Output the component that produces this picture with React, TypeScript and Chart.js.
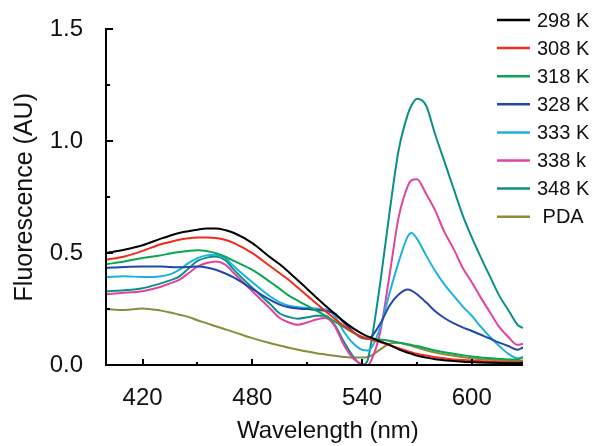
import { useEffect, useRef } from "react";
import { Chart, registerables } from "chart.js";

Chart.register(...registerables);

const wavelengths = [
  400, 410, 420, 430, 435, 440, 445, 450, 455, 460, 465, 470, 480, 490, 495,
  500, 505, 510, 515, 520, 525, 530, 535, 540, 543, 545, 550, 555, 560, 565,
  567, 570, 575, 580, 585, 590, 595, 600, 605, 610, 615, 620, 625, 628,
];

const k298 = [
  0.5, 0.515, 0.535, 0.565, 0.578, 0.59, 0.598, 0.605, 0.61, 0.61, 0.603, 0.59, 0.545, 0.48, 0.45,
  0.415, 0.378, 0.34, 0.302, 0.265, 0.23, 0.195, 0.165, 0.14, 0.128, 0.122, 0.105, 0.09, 0.07, 0.055,
  0.05, 0.042, 0.033, 0.026, 0.021, 0.018, 0.015, 0.013, 0.011, 0.01, 0.009, 0.008, 0.008, 0.01,
];
const k308 = [
  0.47, 0.485, 0.51, 0.54, 0.55, 0.56, 0.566, 0.57, 0.57, 0.568, 0.56, 0.545, 0.5, 0.44, 0.41,
  0.38, 0.345, 0.31, 0.275, 0.24, 0.207, 0.175, 0.148, 0.125, 0.118, 0.113, 0.102, 0.088, 0.075, 0.062,
  0.057, 0.05, 0.042, 0.035, 0.03, 0.025, 0.022, 0.02, 0.017, 0.015, 0.013, 0.012, 0.012, 0.015,
];
const k318 = [
  0.45, 0.463, 0.478, 0.49, 0.498, 0.505, 0.51, 0.513, 0.51, 0.5, 0.485, 0.465, 0.425, 0.37, 0.34,
  0.31, 0.287, 0.265, 0.243, 0.22, 0.195, 0.17, 0.145, 0.125, 0.118, 0.116, 0.114, 0.108, 0.1, 0.093,
  0.09, 0.085, 0.075, 0.065, 0.057, 0.05, 0.044, 0.038, 0.034, 0.03, 0.027, 0.025, 0.025, 0.035,
];
const k328 = [
  0.434, 0.438, 0.44, 0.44, 0.438, 0.437, 0.438, 0.44, 0.436, 0.426, 0.41, 0.39, 0.34, 0.29, 0.27,
  0.258, 0.252, 0.25, 0.246, 0.242, 0.23, 0.19, 0.15, 0.12, 0.117, 0.125, 0.185, 0.265, 0.315, 0.337,
  0.332, 0.316, 0.28, 0.24, 0.21, 0.187, 0.168, 0.152, 0.135, 0.118, 0.1, 0.085, 0.068, 0.078,
];
const k333 = [
  0.393, 0.397, 0.393, 0.397, 0.405, 0.425, 0.455, 0.478, 0.49, 0.493, 0.48, 0.44, 0.37, 0.305, 0.28,
  0.265, 0.258, 0.255, 0.252, 0.248, 0.22, 0.15, 0.098, 0.068, 0.065, 0.075, 0.17, 0.32, 0.46, 0.575,
  0.59, 0.565, 0.49, 0.42, 0.36, 0.31, 0.262, 0.22, 0.17, 0.125, 0.085, 0.05, 0.03, 0.035,
];
const k338 = [
  0.316, 0.323, 0.33, 0.35, 0.365, 0.38, 0.41, 0.44, 0.456, 0.463, 0.45, 0.41, 0.33, 0.25, 0.21,
  0.19, 0.18, 0.19, 0.203, 0.21, 0.175, 0.09, 0.03, 0.004, 0.0, 0.02, 0.15, 0.4, 0.66, 0.8,
  0.825, 0.83, 0.765, 0.69, 0.595, 0.52, 0.435, 0.37, 0.3, 0.235, 0.17, 0.125, 0.09, 0.095,
];
const k348 = [
  0.33, 0.334, 0.343, 0.365, 0.378, 0.395, 0.43, 0.465, 0.48, 0.485, 0.47, 0.425, 0.345, 0.27, 0.23,
  0.215, 0.207, 0.213, 0.22, 0.22, 0.18, 0.105, 0.04, 0.0, 0.02, 0.1, 0.37, 0.68, 0.96, 1.12,
  1.16, 1.19, 1.16, 1.03, 0.91, 0.79, 0.67, 0.57, 0.48, 0.395, 0.31, 0.245, 0.18, 0.165,
];
const pda = [
  0.25, 0.246, 0.253, 0.243, 0.235, 0.225, 0.215, 0.2, 0.187, 0.173, 0.16, 0.147, 0.12, 0.097, 0.087,
  0.077, 0.068, 0.06, 0.053, 0.047, 0.041, 0.036, 0.033, 0.033, 0.036, 0.042, 0.07, 0.095, 0.1, 0.09,
  0.086, 0.078, 0.066, 0.056, 0.048, 0.041, 0.035, 0.03, 0.026, 0.023, 0.02, 0.018, 0.018, 0.02,
];

const seriesLabels = ["298 K", "308 K", "318 K", "328 K", "333 K", "338 k", "348 K", " PDA"];
const seriesColors = ["#000000", "#f42a1c", "#0aa553", "#2448a6", "#1bb2e2", "#e0449c", "#0b8f8a", "#8a8c3a"];
const seriesValues = [k298, k308, k318, k328, k333, k338, k348, pda];

const xMajorTicks = [420, 480, 540, 600];
const xMinorTicks = [450, 510, 570];
const yMajorTicks = [0, 0.5, 1.0, 1.5];
const yMinorTicks = [0.25, 0.75, 1.25];

const FONT = "'Liberation Sans', Arial, Helvetica, sans-serif";

const axesPlugin = {
  id: "innerAxes",
  afterDraw(chart: any) {
    const { ctx, chartArea, scales } = chart;
    const x = scales.x;
    const y = scales.y;
    const left = Math.round(chartArea.left);
    const bottom = Math.round(chartArea.bottom);
    const right = Math.round(chartArea.right);
    const top = Math.round(y.getPixelForValue(1.5));
    ctx.save();
    ctx.fillStyle = "#000";
    // axis lines
    ctx.fillRect(left - 1, top - 1, 2, bottom - top + 2);
    ctx.fillRect(left - 1, bottom - 1, right - left + 1, 2);
    // inward ticks
    const drawX = (vals: number[], len: number) => {
      vals.forEach((v) => {
        const px = Math.round(x.getPixelForValue(v));
        ctx.fillRect(px - 1, bottom - len, 2, len);
      });
    };
    const drawY = (vals: number[], len: number) => {
      vals.forEach((v) => {
        const py = Math.round(y.getPixelForValue(v));
        ctx.fillRect(left, py - 1, len, 2);
      });
    };
    drawX(xMajorTicks, 6);
    drawX(xMinorTicks, 3);
    drawY(yMajorTicks.slice(1), 7);
    drawY(yMinorTicks, 4);
    ctx.restore();
  },
};

const legendPlugin = {
  id: "sideLegend",
  afterDraw(chart: any) {
    const { ctx } = chart;
    ctx.save();
    ctx.font = `20px ${FONT}`;
    ctx.textBaseline = "middle";
    ctx.textAlign = "left";
    chart.data.datasets.forEach((ds: any, i: number) => {
      const yy = 20 + i * 28.1;
      ctx.strokeStyle = ds.borderColor;
      ctx.lineWidth = 2.5;
      ctx.beginPath();
      ctx.moveTo(497, yy);
      ctx.lineTo(530, yy);
      ctx.stroke();
      ctx.fillStyle = "#111";
      ctx.fillText(ds.label, 537, yy + 1);
    });
    ctx.restore();
  },
};

export default function App() {
  const ref = useRef<HTMLCanvasElement | null>(null);

  useEffect(() => {
    if (!ref.current) return;
    Chart.defaults.font.family = FONT;
    const chart = new Chart(ref.current, {
      type: "line",
      data: {
        datasets: seriesValues.map((vals, i) => ({
          label: seriesLabels[i],
          data: wavelengths.map((w, j) => ({ x: w, y: vals[j] })),
          borderColor: seriesColors[i],
          backgroundColor: seriesColors[i],
          borderWidth: 2,
          pointRadius: 0,
          cubicInterpolationMode: "monotone" as const,
          fill: false,
        })),
      },
      options: {
        animation: false,
        responsive: false,
        layout: { padding: { top: 25, right: 77, left: 0, bottom: 0 } },
        plugins: {
          legend: { display: false },
          tooltip: { enabled: false },
        },
        scales: {
          x: {
            type: "linear",
            min: 400,
            max: 628,
            afterFit: (s: any) => {
              s.height = 81;
            },
            afterBuildTicks: (s: any) => {
              s.ticks = xMajorTicks.map((v) => ({ value: v }));
            },
            ticks: {
              color: "#111",
              font: { size: 24, family: FONT },
              padding: 11,
              maxRotation: 0,
              autoSkip: false,
              callback: (v: any) => String(v),
            },
            grid: { display: false },
            border: { display: false },
            title: {
              display: true,
              text: "    Wavelength (nm)",
              color: "#111",
              font: { size: 24, family: FONT },
              padding: { top: 9, bottom: 0 },
            },
          },
          y: {
            type: "linear",
            min: 0,
            max: 1.5,
            afterFit: (s: any) => {
              s.width = 106;
            },
            afterBuildTicks: (s: any) => {
              s.ticks = yMajorTicks.map((v) => ({ value: v }));
            },
            ticks: {
              color: "#111",
              font: { size: 24, family: FONT },
              padding: 15,
              autoSkip: false,
              callback: (v: any) => Number(v).toFixed(1),
            },
            grid: { display: false },
            border: { display: false },
            title: {
              display: true,
              text: "Fluorescence (AU)",
              color: "#111",
              font: { size: 25, family: FONT },
              padding: { top: 10, bottom: 0 },
            },
          },
        },
      },
      plugins: [axesPlugin, legendPlugin],
    });
    return () => chart.destroy();
  }, []);

  return (
    <div style={{ position: "absolute", left: 0, top: 0, width: 600, height: 446, background: "#fff" }}>
      <canvas ref={ref} width={600} height={446} style={{ width: 600, height: 446, display: "block" }} />
    </div>
  );
}
